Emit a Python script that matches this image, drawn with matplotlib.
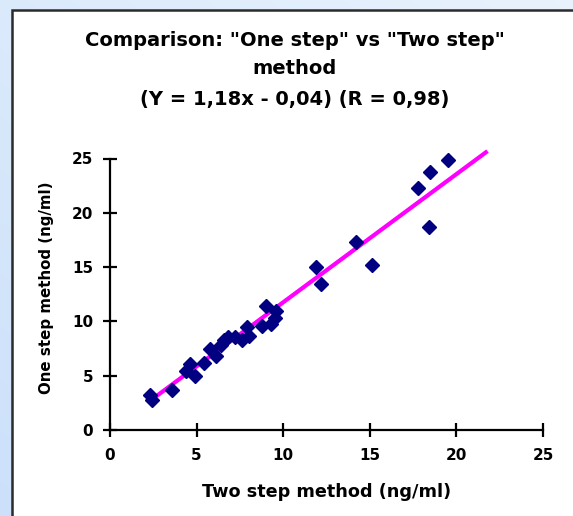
import matplotlib.pyplot as plt
import numpy as np
from matplotlib.patches import Rectangle

# Data
two_step = [2.3, 2.4, 3.6, 4.4, 4.6, 4.9, 5.4, 5.8, 6.1, 6.4, 6.6, 6.8, 7.2,
            7.6, 7.9, 8.0, 8.8, 9.0, 9.3, 9.5, 9.6, 11.9, 12.2, 14.2, 15.1,
            17.8, 18.4, 18.5, 19.5]
one_step = [3.2, 2.8, 3.7, 5.4, 6.1, 5.0, 6.2, 7.5, 6.8, 7.8, 8.3, 8.6, 8.6,
            8.3, 9.5, 8.7, 9.6, 11.4, 9.8, 10.3, 11.0, 15.0, 13.4, 17.3, 15.2,
            22.3, 18.7, 23.8, 24.9]

slope, intercept = 1.18, -0.04
fit_x = [2.3, 21.7]

title_lines = ['Comparison: "One step" vs "Two step"', 'method',
               '(Y = 1,18x - 0,04) (R = 0,98)']
xlabel = "Two step method (ng/ml)"
ylabel = "One step method (ng/ml)"
ticks = [0, 5, 10, 15, 20, 25]

plt.rcParams['font.family'] = ['DejaVu Sans']
plt.rcParams['font.weight'] = 'bold'

W, H = 573, 516
fig = plt.figure(figsize=(W / 100, H / 100), dpi=100)

# light blue gradient background
bg = fig.add_axes([0, 0, 1, 1], zorder=-10)
grad = np.linspace(0, 1, 256)
gx, gy = np.meshgrid(grad, grad)
g = 0.45 * gx + 0.55 * (1 - gy)
c1 = np.array([0.80, 0.88, 0.98])
c2 = np.array([0.91, 0.95, 0.99])
img = c1[None, None, :] * (1 - g[..., None]) + c2[None, None, :] * g[..., None]
bg.imshow(img, extent=[0, 1, 0, 1], aspect='auto', origin='upper')
bg.set_xlim(0, 1)
bg.set_ylim(0, 1)
bg.axis('off')

# white panel with dark border
panel = Rectangle((11.5 / W, -0.1), 1.2, 1 - 9.5 / H + 0.1,
                  transform=fig.transFigure, facecolor='white',
                  edgecolor='#2b2b2b', linewidth=1.8, zorder=-5)
fig.patches.append(panel)

ax = fig.add_axes([110 / W, (H - 430) / H, (543 - 110) / W, (430 - 158.5) / H])
ax.set_facecolor('none')

ax.plot(fit_x, [slope * v + intercept for v in fit_x], color='#ff00ff',
        linewidth=3, clip_on=False, zorder=2)
ax.plot(two_step, one_step, linestyle='none', marker='D', markersize=7,
        color='#000080', zorder=3, clip_on=False)

ax.set_xlim(0, 25)
ax.set_ylim(0, 25)
ax.set_xticks(ticks)
ax.set_yticks(ticks)
ax.spines['top'].set_visible(False)
ax.spines['right'].set_visible(False)
for s in ['left', 'bottom']:
    ax.spines[s].set_linewidth(1.6)
ax.tick_params(direction='inout', length=10.5, width=1.6, labelsize=11)
ax.tick_params(axis='x', pad=8)
ax.tick_params(axis='y', pad=7)
for lab in ax.get_xticklabels() + ax.get_yticklabels():
    lab.set_fontweight('bold')

fig.text(327 / W, 1 - 492 / H, xlabel, ha='center', va='center',
         fontsize=12.7, fontweight='bold')
fig.text(47 / W, 1 - 288 / H, ylabel, ha='center', va='center',
         rotation=90, fontsize=10.8, fontweight='bold')

for txt, yy in zip(title_lines, [40, 68, 100]):
    fig.text(295 / W, 1 - yy / H, txt, ha='center', va='center',
             fontsize=14, fontweight='bold')

fig.savefig("out.png", dpi=100)
